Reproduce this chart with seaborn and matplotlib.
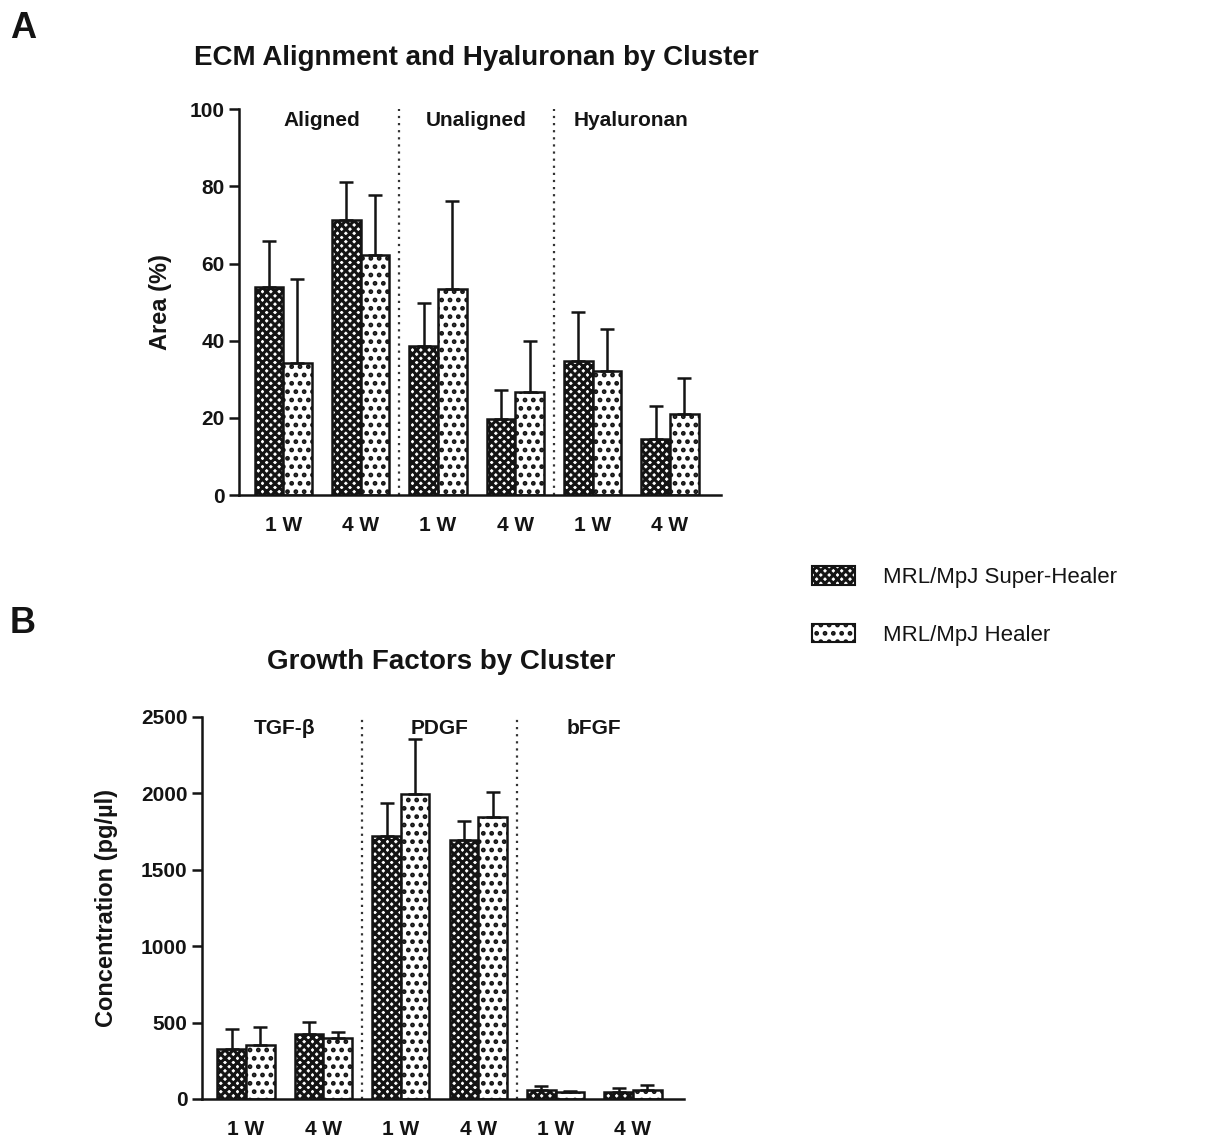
import pandas as pd
import seaborn as sns
import matplotlib.pyplot as plt
import matplotlib.transforms as mtransforms
from matplotlib.patches import Patch

# values (mean and upper error)
strains = ["MRL/MpJ Super-Healer", "MRL/MpJ Healer"]
weeks = ["1 W", "4 W"]

ecm_groups = ["Aligned", "Unaligned", "Hyaluronan"]
ecm_super = [54.0, 71.3, 38.6, 19.7, 34.8, 14.4]
ecm_super_err = [11.9, 9.9, 11.3, 7.4, 12.7, 8.7]
ecm_healer = [34.3, 62.1, 53.4, 26.6, 32.2, 21.1]
ecm_healer_err = [21.7, 15.7, 22.9, 13.4, 10.8, 9.3]

gf_groups = ["TGF-β", "PDGF", "bFGF"]
gf_super = [330, 424, 1724, 1696, 61, 43]
gf_super_err = [127, 80, 215, 126, 22, 29]
gf_healer = [352, 402, 1993, 1843, 43, 61]
gf_healer_err = [122, 33, 361, 168, 7, 32]

hatches = ["xxxx", ".."]
ink = "#141414"

sns.set_style("ticks")
plt.rcParams['font.family'] = ['Liberation Sans', 'DejaVu Sans']
plt.rcParams['hatch.linewidth'] = 2.2
plt.rcParams['hatch.color'] = ink
plt.rcParams['text.color'] = ink
plt.rcParams['axes.labelcolor'] = ink
plt.rcParams['xtick.color'] = ink
plt.rcParams['ytick.color'] = ink


def make_frame(groups, sup, sup_err, heal, heal_err):
    slots = [f"{g} {w}" for g in groups for w in weeks]
    return pd.DataFrame({
        "slot": slots * 2,
        "strain": [strains[0]] * len(slots) + [strains[1]] * len(slots),
        "value": sup + heal,
        "err": sup_err + heal_err,
    })


def draw_panel(ax, df, groups, ymax, ystep, ylabel, label_x, label_size):
    slots = list(dict.fromkeys(df["slot"]))
    sns.barplot(data=df, x="slot", y="value", hue="strain", order=slots,
                hue_order=strains, errorbar=None, width=0.74, saturation=1,
                palette=["white", "white"], edgecolor=ink, linewidth=1.8,
                legend=False, ax=ax)

    # hatch each strain and add the upper error bars
    bar_sets = list(ax.containers)
    for i, cont in enumerate(bar_sets):
        sub = df[df["strain"] == strains[i]].set_index("slot")
        xs, ys, es = [], [], []
        for bar in cont:
            bar.set_hatch(hatches[i])
            cx = bar.get_x() + bar.get_width() / 2
            slot = slots[int(round(cx))]
            xs.append(cx)
            ys.append(bar.get_height())
            es.append(sub.loc[slot, "err"])
        ax.errorbar(xs, ys, yerr=[[0] * len(es), es], fmt="none", ecolor=ink,
                    elinewidth=1.8, capsize=5, capthick=1.8, zorder=1)

    for sep in [1.5, 3.5]:
        ax.axvline(sep, color="#333333", lw=1.6, ls=(0, (1, 2.2)), zorder=0)

    trans = mtransforms.blended_transform_factory(ax.transData, ax.transAxes)
    for k, g in enumerate(groups):
        ax.text(2 * k + 0.5, 0.97, g, transform=trans, ha="center", va="center",
                fontsize=15, fontweight="bold")

    ax.set_xlim(-0.57, 5.66)
    ax.set_ylim(0, ymax)
    ax.set_yticks(range(0, ymax + 1, ystep))
    ax.set_xticks(range(len(slots)), weeks * len(groups))
    ax.set_xlabel("")
    ax.set_ylabel(ylabel, fontsize=label_size, fontweight="bold")
    ax.yaxis.set_label_coords(label_x, 0.5)
    sns.despine(ax=ax)
    for s in ["left", "bottom"]:
        ax.spines[s].set_linewidth(1.8)
        ax.spines[s].set_color(ink)
    ax.tick_params(axis="x", length=0, pad=15, labelsize=15)
    ax.tick_params(axis="y", length=7, width=1.8, color=ink, labelsize=15)
    for t in ax.get_xticklabels() + ax.get_yticklabels():
        t.set_fontweight("bold")


fig = plt.figure(figsize=(12.06, 11.38), dpi=100)
ax_a = fig.add_axes([0.1982, 0.565, 0.3997, 0.339])
ax_b = fig.add_axes([0.1675, 0.0343, 0.3997, 0.3357])

draw_panel(ax_a, make_frame(ecm_groups, ecm_super, ecm_super_err, ecm_healer, ecm_healer_err),
           ecm_groups, 100, 20, "Area (%)", -0.139, 17)
draw_panel(ax_b, make_frame(gf_groups, gf_super, gf_super_err, gf_healer, gf_healer_err),
           gf_groups, 2500, 500, "Concentration (pg/µl)", -0.174, 17)

fig.text(0.395, 0.949, "ECM Alignment and Hyaluronan by Cluster", ha="center", va="center",
         fontsize=20, fontweight="bold")
fig.text(0.366, 0.418, "Growth Factors by Cluster", ha="center", va="center",
         fontsize=20, fontweight="bold")
fig.text(0.008, 0.975, "A", fontsize=26, fontweight="bold", va="center")
fig.text(0.008, 0.452, "B", fontsize=26, fontweight="bold", va="center")

handles = [Patch(facecolor="white", edgecolor=ink, hatch=h, linewidth=1.5, label=s)
           for h, s in zip(hatches, strains)]
fig.legend(handles=handles, loc="upper left", bbox_to_anchor=(0.657, 0.52),
           frameon=False, fontsize=16, handlelength=1.9, handleheight=0.9,
           labelspacing=1.6, handletextpad=1.3)

fig.savefig("out.png", dpi=100)
